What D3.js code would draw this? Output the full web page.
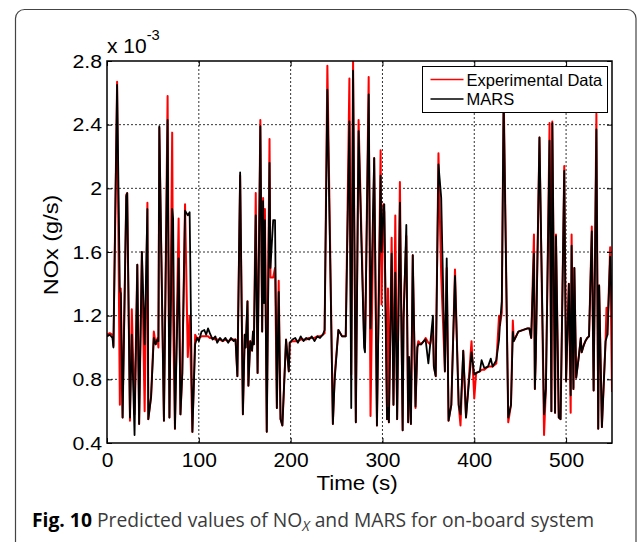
<!DOCTYPE html>
<html>
<head>
<meta charset="utf-8">
<script src="https://cdn.jsdelivr.net/npm/d3@7"></script>
<style>
  html, body { margin: 0; padding: 0; background: #fff; }
  svg { display: block; }
</style>
</head>
<body>
<svg id="chart" width="637" height="542"></svg>
<script>
// time (s) of each traced vertex
const time = [0,3,6,7,11,14,15,17,21,22,25,27,30,33,35,38,41,44,45,48,51,53,55,56,57,62,66,68,71,72,74,78,80,82,85,88,90,93,96,98,100,103,106,108,110,112,115,118,120,123,126,129,132,135,138,140,142,145,148,150,151,153,154,156,158,159,160,162,164,167,169,170,171,172,174,177,178,181,183,185,187,189,191,195,198,199,202,205,208,211,214,217,220,223,226,229,232,235,237,240,246,248,252,256,260,264,266,268,271,274,280,281,285,287,291,294,298,299,301,302,305,306,307,310,312,314,316,319,322,323,326,328,329,331,333,336,338,339,342,345,347,350,352,355,356,358,361,364,368,370,372,375,379,383,385,388,391,397,400,402,406,408,411,415,418,420,424,427,428,430,432,437,440,442,443,448,453,458,460,462,465,466,467,471,476,478,482,484,485,488,489,492,494,498,500,503,505,506,508,509,511,514,516,517,519,521,523,525,528,530,533,535,536,539,543,544,545,548,550];
// NOx, units of 1e-3 g/s
const experimental = [1.08,1.09,1.08,1.01,2.67,0.64,1.37,0.56,1.96,1.97,0.54,1.24,0.58,1.52,0.52,1.60,0.60,1.91,0.55,0.69,1.10,1.02,1.06,1.00,2.38,0.54,2.58,0.56,2.35,1.20,0.49,1.81,0.58,0.84,1.90,0.94,1.20,0.47,1.08,1.06,1.06,1.07,1.07,1.07,1.07,1.06,1.06,1.05,1.05,1.05,1.04,1.05,1.04,1.05,1.05,1.05,0.82,2.08,0.58,1.08,1.00,1.29,0.76,1.04,0.98,1.10,1.02,1.97,0.84,2.43,1.10,1.94,1.28,1.87,0.47,2.31,1.44,1.44,1.50,0.62,1.42,0.55,0.51,1.05,0.85,1.03,1.04,1.04,1.04,1.05,1.05,1.05,1.06,1.06,1.06,1.07,1.07,1.08,1.09,2.77,0.52,0.83,1.11,1.07,1.07,2.69,0.83,2.80,0.53,2.43,1.07,1.00,2.70,0.57,2.19,0.51,2.24,1.27,1.90,1.85,0.55,1.37,0.53,1.69,0.64,1.83,0.55,2.04,0.48,1.20,1.70,0.53,0.94,0.52,1.58,0.62,1.00,1.04,1.02,1.04,1.06,1.03,1.02,1.10,0.88,0.82,2.22,1.45,0.85,1.50,0.54,0.64,1.49,0.64,0.51,0.98,0.56,1.04,0.68,0.84,0.85,0.86,0.86,0.88,0.88,0.88,0.90,1.20,1.14,1.22,2.62,0.53,0.64,1.17,1.04,1.10,1.11,1.12,1.12,1.06,1.71,0.74,0.94,2.32,0.45,0.74,2.41,0.60,2.42,0.59,1.71,0.56,0.55,2.14,0.79,1.40,0.59,1.71,0.74,1.50,0.81,0.95,1.06,0.97,1.01,1.04,1.06,1.07,1.76,0.73,2.47,0.49,1.39,0.50,1.04,1.25,1.08,1.63,0.72];
const mars = [1.07,1.08,1.06,1.00,2.65,1.36,1.34,0.56,1.95,1.97,0.56,1.08,0.45,1.52,0.52,1.60,1.02,1.87,0.55,0.69,1.06,1.02,1.05,1.04,2.39,0.54,2.43,0.56,1.87,1.81,0.49,1.56,0.58,0.84,1.86,1.83,1.85,0.47,1.02,1.06,1.04,1.10,1.11,1.08,1.12,1.09,1.05,1.07,1.03,1.06,1.04,1.06,1.03,1.06,1.04,1.05,0.82,2.10,0.58,1.08,1.00,1.29,0.76,1.04,0.98,1.10,1.02,1.83,0.84,2.39,1.10,1.92,1.28,1.80,0.47,2.16,1.50,1.80,1.80,0.62,1.35,0.55,0.51,1.05,0.85,1.03,1.05,1.06,1.03,1.07,1.04,1.06,1.05,1.07,1.04,1.07,1.06,1.08,1.11,2.62,0.52,0.80,1.11,1.07,1.07,2.42,0.62,2.74,0.53,2.36,1.00,0.97,2.59,1.12,2.19,0.51,2.08,1.60,1.88,1.90,0.55,0.62,0.53,1.59,0.64,1.47,0.55,1.91,0.48,1.18,1.77,0.53,0.94,0.52,1.58,0.63,1.00,1.02,1.02,1.04,1.05,0.90,1.02,1.20,0.88,0.82,2.15,1.94,0.85,1.56,0.54,0.64,1.45,0.64,0.58,0.98,0.56,0.97,0.83,0.84,0.85,0.92,0.87,0.88,0.93,0.88,0.92,1.05,1.15,1.29,2.55,0.56,0.64,1.10,1.04,1.10,1.11,1.12,1.12,1.06,1.59,0.74,0.94,2.32,0.58,0.74,2.30,0.60,2.41,0.59,1.70,0.56,0.55,2.11,0.79,1.40,0.70,1.64,0.74,1.50,0.81,0.95,1.06,0.97,1.01,1.04,1.06,1.07,1.73,0.73,2.37,0.49,1.39,0.50,1.04,1.06,1.08,1.57,1.20];
const xTicks = [0, 100, 200, 300, 400, 500];
const yTicks = [0.4, 0.8, 1.2, 1.6, 2, 2.4, 2.8];
const seriesNames = ['Experimental Data', 'MARS'];
const seriesColors = ['#ff0000', '#000000'];

const svg = d3.select('#chart');
const plot = { left: 107, top: 61, right: 612, bottom: 443 };
const width = plot.right - plot.left;
const height = plot.bottom - plot.top;
const font = 'Liberation Sans, Arial, Helvetica, sans-serif';
const stretch = 1.12; // the figure's Helvetica runs wider than Arial

// outer panel frame
svg.append('rect')
    .attr('x', 15.5).attr('y', 9.5).attr('width', 620.5).attr('height', 600)
    .attr('rx', 9).attr('fill', 'none').attr('stroke', '#444').attr('stroke-width', 1.2);

const g = svg.append('g').attr('transform', `translate(${plot.left},${plot.top})`);

const x = d3.scaleLinear().domain([0, 550]).range([0, width]);
const y = d3.scaleLinear().domain([0.4, 2.8]).range([height, 0]);

// Grid (dotted)
g.append('g').selectAll('line')
    .data(xTicks.filter(d => d > 0))
    .enter().append('line')
    .attr('x1', d => x(d)).attr('x2', d => x(d))
    .attr('y1', 0).attr('y2', height)
    .attr('stroke', '#333').attr('stroke-width', 1).attr('stroke-dasharray', '2,2');
g.append('g').selectAll('line')
    .data(yTicks.filter(d => d > 0.4 && d < 2.8))
    .enter().append('line')
    .attr('y1', d => y(d)).attr('y2', d => y(d))
    .attr('x1', 0).attr('x2', width)
    .attr('stroke', '#333').attr('stroke-width', 1).attr('stroke-dasharray', '2,2');

// Lines
g.append('clipPath').attr('id', 'clip')
    .append('rect').attr('width', width).attr('height', height);

const rows = time.map((t, i) => ({ t, exp: experimental[i], mars: mars[i] }));
const lineExp = d3.line().x(d => x(d.t)).y(d => y(d.exp));
const lineMars = d3.line().x(d => x(d.t)).y(d => y(d.mars));

g.append('path').datum(rows)
    .attr('clip-path', 'url(#clip)')
    .attr('d', lineExp)
    .attr('fill', 'none').attr('stroke', seriesColors[0]).attr('stroke-width', 2).attr('stroke-linejoin', 'round');
g.append('path').datum(rows)
    .attr('clip-path', 'url(#clip)')
    .attr('d', lineMars)
    .attr('fill', 'none').attr('stroke', seriesColors[1]).attr('stroke-width', 1.8).attr('stroke-linejoin', 'round');

// Axes box with inward ticks on all sides
const xAxis = g.append('g').attr('transform', `translate(0,${height})`)
    .call(d3.axisBottom(x).tickValues(xTicks).tickSizeInner(-5).tickSizeOuter(0).tickPadding(10).tickFormat(d3.format('d')))
    .call(a => a.select('.domain').remove());
g.append('g')
    .call(d3.axisTop(x).tickValues(xTicks).tickSizeInner(-5).tickSizeOuter(0).tickFormat(''))
    .call(a => a.select('.domain').remove());
const yAxis = g.append('g')
    .call(d3.axisLeft(y).tickValues(yTicks).tickSizeInner(-5).tickSizeOuter(0).tickPadding(5).tickFormat(d => String(d)))
    .call(a => a.select('.domain').remove());
g.append('g').attr('transform', `translate(${width},0)`)
    .call(d3.axisRight(y).tickValues(yTicks).tickSizeInner(-5).tickSizeOuter(0).tickFormat(''))
    .call(a => a.select('.domain').remove());

g.selectAll('.tick line').attr('stroke', '#000').attr('stroke-width', 1);
xAxis.selectAll('.tick text').attr('font-family', font).attr('font-size', '20px').attr('fill', '#000')
    .attr('transform', 'scale(1.05,1)');
yAxis.selectAll('.tick text').attr('font-family', font).attr('font-size', '19px').attr('fill', '#000')
    .attr('x', -5 / stretch).attr('transform', `scale(${stretch},1)`);

g.append('rect').attr('width', width).attr('height', height)
    .attr('fill', 'none').attr('stroke', '#000').attr('stroke-width', 1.5);

// exponent label
const expo = svg.append('text').attr('transform', `translate(${plot.left},53) scale(1.05,1)`)
    .attr('font-family', font).attr('font-size', '20px').attr('fill', '#000');
expo.append('tspan').text('x 10');
expo.append('tspan').attr('dy', -13).attr('font-size', '14px').text('-3');

// Axis labels
svg.append('text')
    .attr('transform', `translate(357,490) scale(${stretch},1)`)
    .attr('text-anchor', 'middle')
    .attr('font-family', font).attr('font-size', '20px').attr('fill', '#000')
    .text('Time (s)');
svg.append('text')
    .attr('transform', `translate(58,245) rotate(-90) scale(${stretch},1)`)
    .attr('text-anchor', 'middle')
    .attr('font-family', font).attr('font-size', '21px').attr('fill', '#000')
    .text('NOx (g/s)');

// Legend
const legend = svg.append('g').attr('transform', 'translate(422.5,66.5)');
legend.append('rect').attr('width', 185).attr('height', 46)
    .attr('fill', '#fff').attr('stroke', '#000').attr('stroke-width', 1);
seriesNames.forEach((name, i) => {
    const ly = 13 + i * 19.5;
    legend.append('line').attr('x1', 8).attr('x2', 41).attr('y1', ly).attr('y2', ly)
        .attr('stroke', seriesColors[i]).attr('stroke-width', 1.5);
    legend.append('text').attr('x', 44).attr('y', ly + 6)
        .attr('font-family', font).attr('font-size', '16.5px').attr('fill', '#000')
        .text(name);
});

// Caption
const cap = svg.append('text').attr('x', 32).attr('y', 527)
    .attr('font-family', 'Open Sans, Noto Sans, sans-serif').attr('font-size', '19.3px').attr('fill', '#3a3a3a');
cap.append('tspan').attr('font-weight', 'bold').attr('fill', '#000').text('Fig. 10');
cap.append('tspan').text(' Predicted values of NO');
cap.append('tspan').attr('font-style', 'italic').attr('font-size', '14px').attr('dy', 4).text('X');
cap.append('tspan').attr('dy', -4).text(' and MARS for on-board system');
</script>
</body>
</html>
